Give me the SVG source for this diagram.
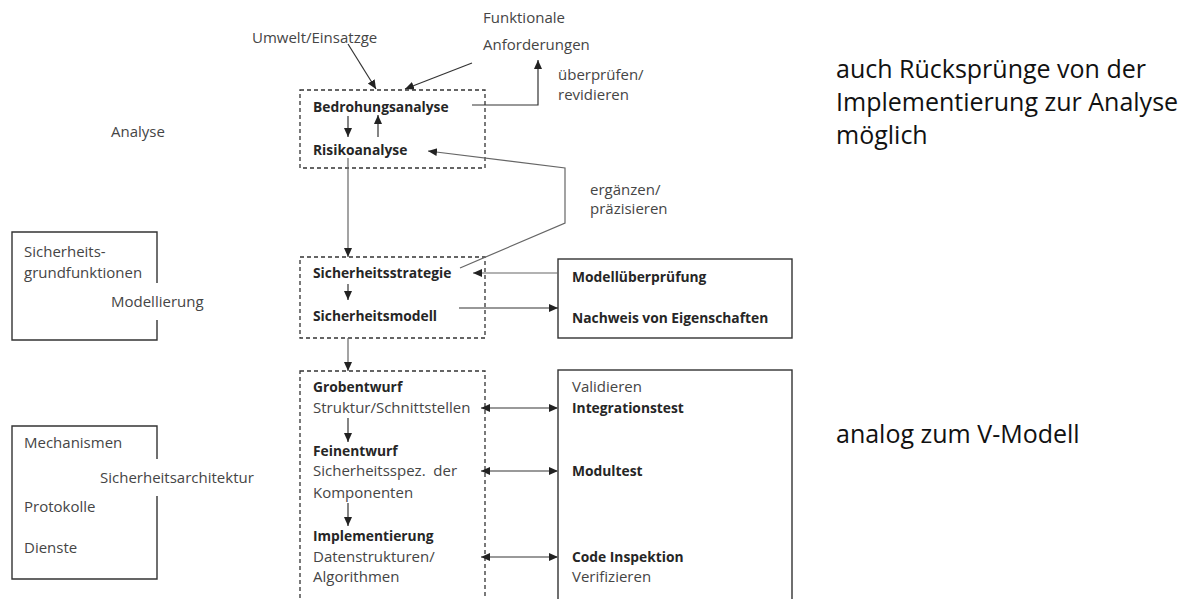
<svg xmlns="http://www.w3.org/2000/svg" width="1193" height="599" viewBox="0 0 1193 599">
<style>
.t{font-family:"Open Sans","Noto Sans",sans-serif;font-size:15px;fill:#454545}
.b{font-family:"Open Sans","Noto Sans",sans-serif;font-size:13.8px;font-weight:bold;fill:#262626}
.big{font-family:"Open Sans","Noto Sans",sans-serif;font-size:25px;fill:#111}
.pre{white-space:pre}
.box{fill:none;stroke:#333;stroke-width:1.4}
.dash{fill:none;stroke:#333;stroke-width:1.3;stroke-dasharray:4 3}
.c{fill:none;stroke:#333;stroke-width:1.2}
.g{fill:none;stroke:#666;stroke-width:1.2}
.d{fill:none;stroke:#777;stroke-width:1.6}
</style>
<defs>
<marker id="ah" markerUnits="userSpaceOnUse" markerWidth="10" markerHeight="10" viewBox="0 0 10 10" refX="9" refY="5" orient="auto-start-reverse">
<path d="M0,1 L9,5 L0,9 Z" fill="#222"/>
</marker>
</defs>
<g id="labels-top">
<text class="t" x="252" y="43">Umwelt/Einsatzge</text>
<text class="t" x="483" y="23">Funktionale</text>
<text class="t" x="483" y="50">Anforderungen</text>
<text class="t" x="558" y="80">überprüfen/</text>
<text class="t" x="558" y="100">revidieren</text>
<text class="t" x="111" y="137">Analyse</text>
<text class="t" x="590" y="195">ergänzen/</text>
<text class="t" x="590" y="214">präzisieren</text>
</g>
<g id="analyse">
<rect class="dash" x="300" y="90" width="185" height="78"/>
<text class="b" x="313" y="112">Bedrohungsanalyse</text>
<text class="b" x="313" y="155">Risikoanalyse</text>
</g>
<g id="modellierung">
<rect class="dash" x="300" y="257" width="185" height="81"/>
<text class="b" x="313" y="278">Sicherheitsstrategie</text>
<text class="b" x="313" y="321">Sicherheitsmodell</text>
</g>
<g id="entwurf">
<rect class="dash" x="300" y="371" width="185" height="240"/>
<text class="b" x="313" y="392">Grobentwurf</text>
<text class="t" x="313" y="413">Struktur/Schnittstellen</text>
<text class="b" x="313" y="456">Feinentwurf</text>
<text class="t pre" x="313" y="476">Sicherheitsspez.  der</text>
<text class="t" x="313" y="498">Komponenten</text>
<text class="b" x="313" y="541">Implementierung</text>
<text class="t" x="313" y="562">Datenstrukturen/</text>
<text class="t" x="313" y="582">Algorithmen</text>
</g>
<g id="pruefung">
<rect class="box" x="558" y="259" width="234" height="79"/>
<text class="b" x="572" y="282">Modellüberprüfung</text>
<text class="b" x="572" y="323">Nachweis von Eigenschaften</text>
</g>
<g id="tests">
<rect class="box" x="558" y="370" width="234" height="241"/>
<text class="t" x="572" y="392">Validieren</text>
<text class="b" x="572" y="413">Integrationstest</text>
<text class="b" x="572" y="476">Modultest</text>
<text class="b" x="572" y="562">Code Inspektion</text>
<text class="t" x="572" y="582">Verifizieren</text>
</g>
<g id="grundfunktionen">
<path class="box" d="M157,283 V232 H12 V340 H157 V320"/>
<text class="t" x="24" y="257">Sicherheits-</text>
<text class="t" x="24" y="278">grundfunktionen</text>
<text class="t" x="111" y="307">Modellierung</text>
</g>
<g id="architektur">
<path class="box" d="M157,459 V426 H12 V579 H157 V496"/>
<text class="t" x="24" y="448">Mechanismen</text>
<text class="t" x="100" y="483">Sicherheitsarchitektur</text>
<text class="t" x="24" y="512">Protokolle</text>
<text class="t" x="24" y="553">Dienste</text>
</g>
<g id="right-notes">
<text class="big" x="836" y="78">auch Rücksprünge von der</text>
<text class="big" x="836" y="111">Implementierung zur Analyse</text>
<text class="big" x="836" y="144">möglich</text>
<text class="big" x="836" y="443">analog zum V-Modell</text>
</g>
<g id="connectors">
<line class="c" x1="348" y1="44" x2="376" y2="89" marker-end="url(#ah)"/>
<line class="c" x1="472" y1="63" x2="405" y2="89" marker-end="url(#ah)"/>
<polyline class="c" points="472,105 538,105 538,60" marker-end="url(#ah)"/>
<line class="c" x1="348" y1="116" x2="348" y2="137" marker-end="url(#ah)"/>
<line class="c" x1="378" y1="137" x2="378" y2="115" marker-end="url(#ah)"/>
<polyline class="g" points="460,268 565,223 565,168 428,151" marker-end="url(#ah)"/>
<line class="g" x1="348" y1="158" x2="348" y2="257" marker-end="url(#ah)"/>
<line class="c" x1="348" y1="284" x2="348" y2="300" marker-end="url(#ah)"/>
<line class="g" x1="558" y1="273" x2="473" y2="273" marker-end="url(#ah)"/>
<line class="c" x1="459" y1="308" x2="558" y2="308" marker-end="url(#ah)"/>
<line class="g" x1="348" y1="338" x2="348" y2="371" marker-end="url(#ah)"/>
<line class="c" x1="348" y1="418" x2="348" y2="442" marker-end="url(#ah)"/>
<line class="c" x1="348" y1="503" x2="348" y2="526" marker-end="url(#ah)"/>
<line class="d" x1="481" y1="408" x2="558" y2="408" marker-start="url(#ah)" marker-end="url(#ah)"/>
<line class="d" x1="481" y1="471" x2="558" y2="471" marker-start="url(#ah)" marker-end="url(#ah)"/>
<line class="d" x1="481" y1="557" x2="558" y2="557" marker-start="url(#ah)" marker-end="url(#ah)"/>
</g>
</svg>
